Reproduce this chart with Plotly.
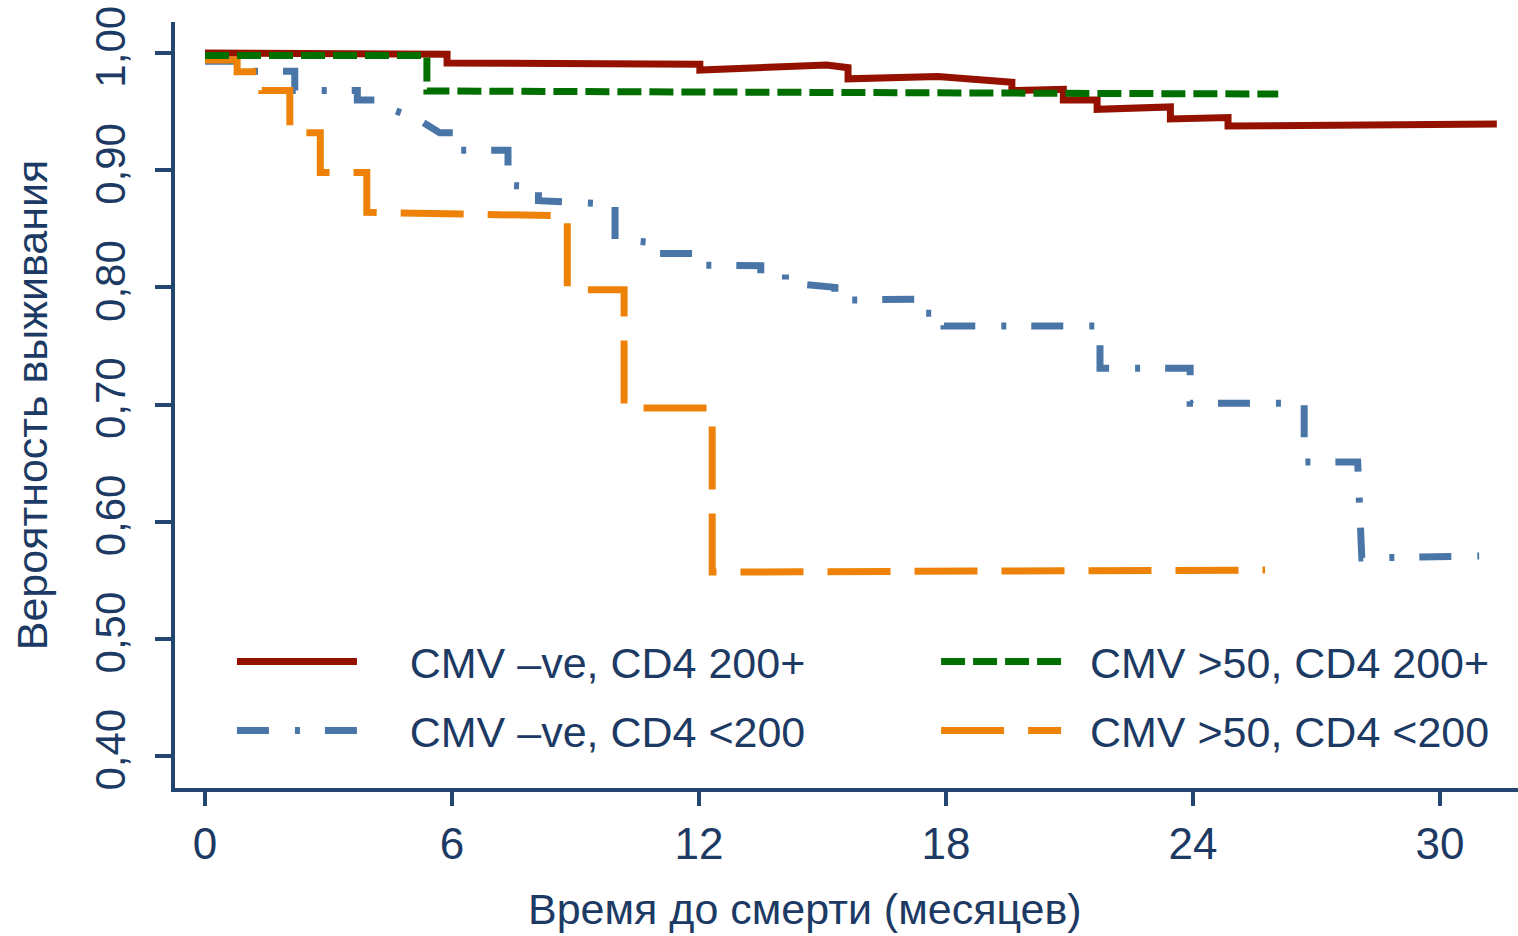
import plotly.graph_objects as go

# ---------------- data ----------------
# CMV -ve, CD4 200+
red_t = [0.0, 5.88, 5.88, 12.02, 12.02, 15.10, 15.62, 15.62, 17.80, 19.60, 19.60,
         20.85, 20.85, 21.67, 21.67, 23.45, 23.45, 24.85, 24.85, 31.38]
red_s = [1.000, 0.999, 0.9915, 0.9905, 0.9855, 0.9898, 0.9875, 0.978, 0.980, 0.975, 0.968,
         0.969, 0.960, 0.960, 0.952, 0.954, 0.9437, 0.945, 0.9377, 0.9394]

# CMV -ve, CD4 <200
blue_t = [0.0, 0.85, 0.85, 2.18, 2.18, 3.70, 3.70, 4.32, 4.60, 5.10, 5.70, 6.15, 6.15,
          7.36, 7.36, 8.10, 8.10, 9.60, 9.96, 9.96, 10.95, 10.95, 12.05, 12.05,
          13.50, 13.50, 14.10, 14.10, 15.30, 15.30, 17.32, 17.32, 17.95, 17.95,
          21.74, 21.74, 23.93, 23.93, 26.70, 26.70, 28.00, 28.10, 30.95]
blue_s = [0.993, 0.993, 0.9845, 0.9845, 0.968, 0.968, 0.960, 0.960, 0.951, 0.945, 0.932, 0.932, 0.917,
          0.917, 0.887, 0.886, 0.874, 0.871, 0.871, 0.841, 0.838, 0.829, 0.829, 0.819,
          0.8185, 0.812, 0.812, 0.804, 0.800, 0.789, 0.790, 0.778, 0.778, 0.767,
          0.767, 0.731, 0.731, 0.701, 0.701, 0.651, 0.651, 0.569, 0.5707]

# CMV >50, CD4 <200
orange_t = [0.0, 0.78, 0.78, 1.38, 1.38, 2.06, 2.06, 2.80, 2.80, 3.93, 3.93, 8.80, 8.80,
            10.18, 10.18, 12.32, 12.32, 25.75]
orange_s = [0.994, 0.994, 0.984, 0.984, 0.968, 0.968, 0.932, 0.932, 0.898, 0.898, 0.864, 0.861, 0.798,
            0.798, 0.697, 0.697, 0.557, 0.5587]

# CMV >50, CD4 200+
green_t = [0.0, 5.39, 5.39, 18.0, 26.07]
green_s = [0.998, 0.998, 0.9676, 0.9667, 0.965]

month_ticks = [0, 6, 12, 18, 24, 30]
surv_ticks = [0.40, 0.50, 0.60, 0.70, 0.80, 0.90, 1.00]
surv_ticktext = ["0,40", "0,50", "0,60", "0,70", "0,80", "0,90", "1,00"]

series_names = ["CMV –ve, CD4 200+", "CMV –ve, CD4 <200", "CMV >50, CD4 <200", "CMV >50, CD4 200+"]

# ---------------- styling ----------------
NAVY = "#1c3a63"
AXIS = "#22466f"
FONT = "Liberation Sans, Arial, Helvetica, sans-serif"
NB = "\u00a0"

fig = go.Figure()
fig.add_trace(go.Scatter(x=red_t, y=red_s, mode="lines", name=NB * 4 + series_names[0],
                         line=dict(color="#941100", width=7),
                         legend="legend", legendrank=1, legendgroup="a"))
fig.add_trace(go.Scatter(x=blue_t, y=blue_s, mode="lines", name=NB * 4 + series_names[1],
                         line=dict(color="#4a76a7", width=7, dash="32px,26px,5px,25px"),
                         legend="legend", legendrank=2, legendgroup="b"))
fig.add_trace(go.Scatter(x=orange_t, y=orange_s, mode="lines", name=NB * 2 + series_names[2],
                         line=dict(color="#ee8208", width=7, dash="63px,24px"),
                         legend="legend2", legendrank=2, legendgroup="c"))
fig.add_trace(go.Scatter(x=green_t, y=green_s, mode="lines", name=NB * 2 + series_names[3],
                         line=dict(color="#006f00", width=7, dash="24px,8px"),
                         legend="legend2", legendrank=1, legendgroup="d"))

legend_common = dict(
    font=dict(family=FONT, size=43, color=NAVY),
    bgcolor="rgba(0,0,0,0)", borderwidth=0,
    itemwidth=120, tracegroupgap=10,
    xanchor="left", yanchor="top", orientation="v",
)

fig.update_layout(
    width=1518, height=936,
    margin=dict(l=175, r=0, t=22, b=148, autoexpand=False),
    paper_bgcolor="white", plot_bgcolor="white",
    font=dict(family=FONT, size=44, color=NAVY),
    showlegend=True,
    legend=dict(x=0.0424, y=0.21, **legend_common),
    legend2=dict(x=0.5667, y=0.21, **legend_common),
    xaxis=dict(
        range=[-0.729, 31.894], tickvals=month_ticks,
        showgrid=False, zeroline=False,
        showline=True, linecolor=AXIS, linewidth=4,
        ticks="outside", ticklen=14, tickwidth=4, tickcolor=AXIS,
        tickfont=dict(family=FONT, size=44, color=NAVY),
        ticklabelstandoff=0, ticklabeloverflow="allow",
    ),
    yaxis=dict(
        range=[0.3727, 1.0265], tickvals=surv_ticks, ticktext=surv_ticktext,
        showgrid=False, zeroline=False,
        showline=True, linecolor=AXIS, linewidth=4,
        ticks="outside", ticklen=16, tickwidth=4, tickcolor=AXIS,
        tickangle=-90,
        tickfont=dict(family=FONT, size=42, color=NAVY),
        ticklabelstandoff=13, ticklabeloverflow="allow",
        title=dict(text="Вероятность выживания", font=dict(family=FONT, size=43, color=NAVY),
                   standoff=27),
    ),
    annotations=[dict(
        text="Время до смерти (месяцев)", xref="paper", yref="paper",
        x=0.469, y=-0.1919, xanchor="center", yanchor="bottom", showarrow=False,
        font=dict(family=FONT, size=43, color=NAVY),
    )],
)

# remove the browser's default 8px body margin so the figure fills the window exactly
fig.write_html("out.html",
               config={"displayModeBar": False},
               post_script="document.body.style.margin='0';document.body.style.overflow='hidden';")
